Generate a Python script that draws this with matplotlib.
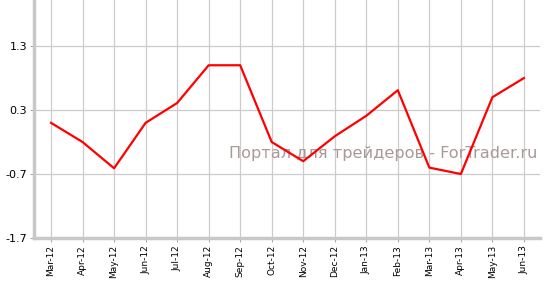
import numpy as np
import matplotlib.pyplot as plt

months = ["Mar-12", "Apr-12", "May-12", "Jun-12", "Jul-12", "Aug-12", "Sep-12", "Oct-12",
          "Nov-12", "Dec-12", "Jan-13", "Feb-13", "Mar-13", "Apr-13", "May-13", "Jun-13"]
values = [0.10, -0.20, -0.61, 0.10, 0.41, 1.00, 1.00, -0.20,
          -0.50, -0.11, 0.21, 0.61, -0.60, -0.70, 0.50, 0.80]
yticks = [-1.7, -0.7, 0.3, 1.3]

fig = plt.figure(figsize=(5.47, 2.84), dpi=100)
ax = fig.add_axes([34 / 547, 46 / 284, 506 / 547, 238 / 284])

x = np.arange(len(months))
ax.plot(x, values, color="#ff0000", lw=1.6, zorder=3)

ax.set_xlim(-0.54, len(months) - 1 + 0.51)
ax.set_ylim(-1.7, 2.02)
ax.set_xticks(x)
ax.set_xticklabels(months, rotation=90, fontsize=6.5)
ax.set_yticks(yticks)
ax.set_yticklabels([str(v) for v in yticks], fontsize=8)

ax.grid(True, color="#cccccc", lw=0.9, zorder=0)
for s in ["top", "right"]:
    ax.spines[s].set_visible(False)
for s in ["left", "bottom"]:
    ax.spines[s].set_color("#c8c8c8")
    ax.spines[s].set_linewidth(2.5)
ax.tick_params(axis="x", length=3, color="#aaaaaa", pad=2)
ax.tick_params(axis="y", length=3, color="#aaaaaa", pad=2)

# watermark
ax.text(0.995, 0.355, "Портал для трейдеров - ForTrader.ru", transform=ax.transAxes,
        ha="right", va="center", fontsize=11.6, color="#a89a98", zorder=2)

fig.savefig("out.png", dpi=100)
